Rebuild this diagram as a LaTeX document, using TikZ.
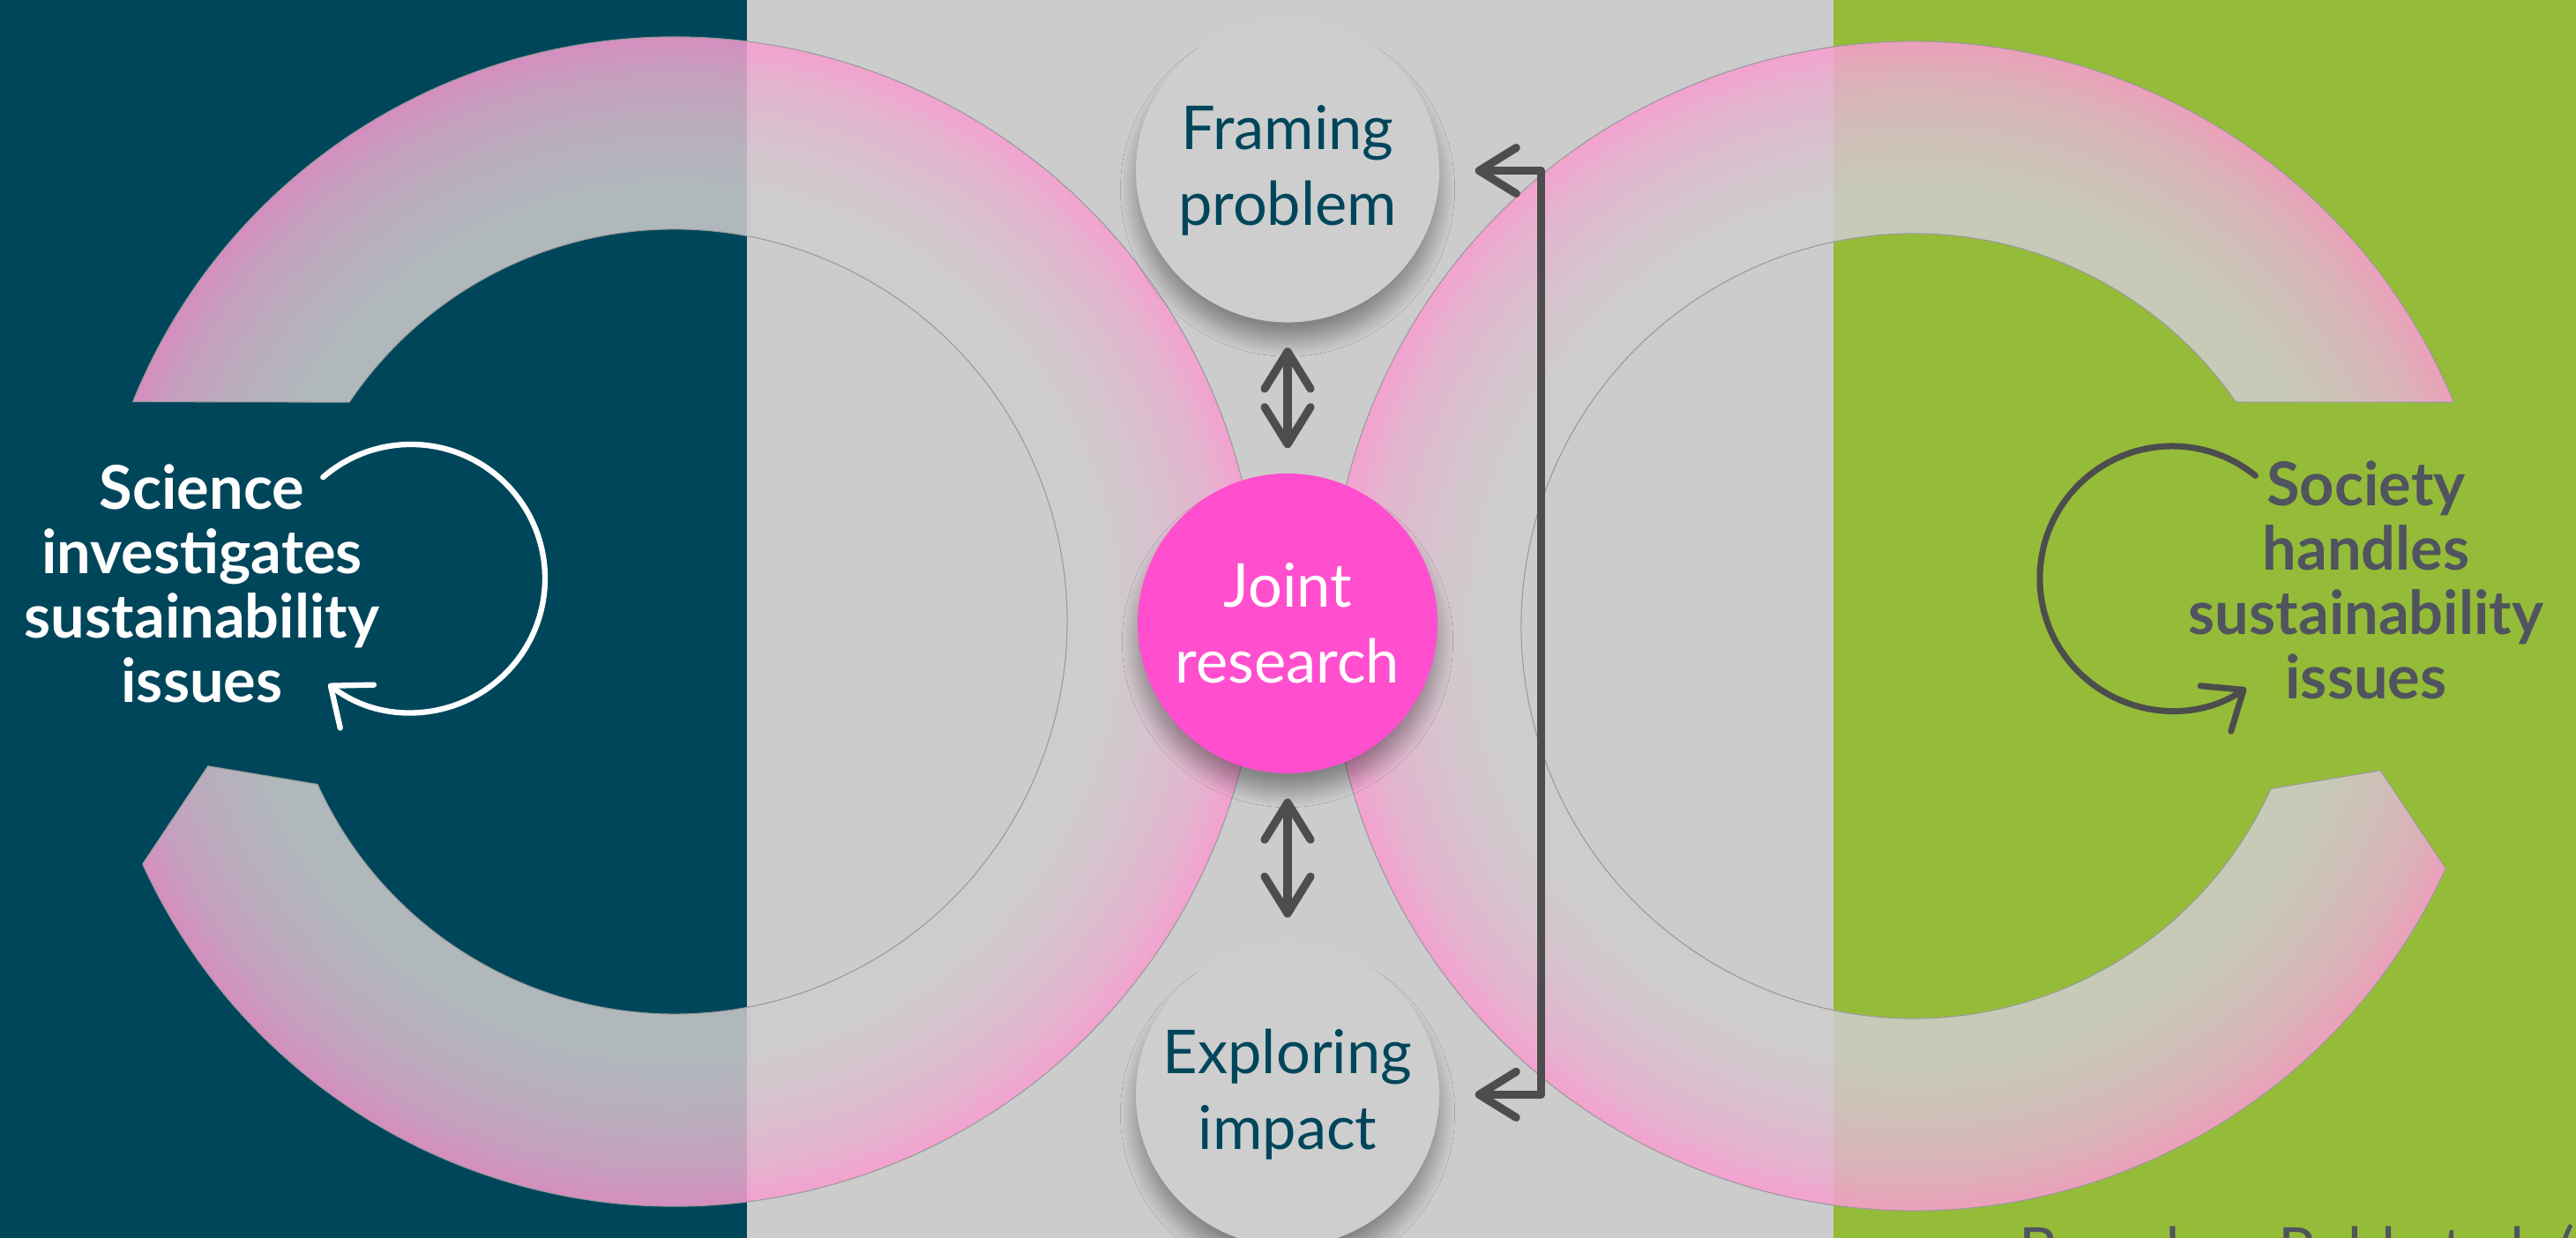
\documentclass[tikz,border=0pt]{standalone}
\usepackage{fontspec}
\setmainfont{Lato}
\usetikzlibrary{arrows.meta, positioning, shadows.blur}

\definecolor{sciteal}{HTML}{00465B}
\definecolor{socgreen}{HTML}{95BC38}
\definecolor{midgrey}{HTML}{CCCCCC}
\definecolor{stagegrey}{HTML}{CECECE}
\definecolor{ringpink}{HTML}{FF96D1}
\definecolor{ringgrey}{HTML}{CFCDCE}
\definecolor{jointpink}{HTML}{FF4FCE}
\definecolor{arrowgrey}{HTML}{4D4D4D}
\definecolor{labelgrey}{HTML}{50545E}

% pink rim fading into grey towards the hole (25bp = outer rim)
\pgfdeclareradialshading{ringfill}{\pgfpointorigin}{color(0bp)=(ringgrey); color(18.5bp)=(ringgrey); color(21bp)=(ringpink!22!ringgrey); color(23.5bp)=(ringpink!55!ringgrey); color(25bp)=(ringpink!90!ringgrey); color(50bp)=(ringpink)}

% the two open rings, flat cut at the top, pointed end at the bottom
\newcommand{\sciencering}{([shift={(157.9:6.63)}]scicentre) arc[start angle=157.9, end angle=-155.5, radius=6.63]
  -- ([shift={(197.2:5.54)}]scicentre) -- ([shift={(-155.5:4.45)}]scicentre)
  arc[start angle=-155.5, end angle=146, radius=4.45] -- cycle}
\newcommand{\societyring}{([shift={(22.5:6.63)}]soccentre) arc[start angle=22.5, end angle=335.5, radius=6.63]
  -- ([shift={(342.8:5.54)}]soccentre) -- ([shift={(335.5:4.45)}]soccentre)
  arc[start angle=335.5, end angle=34.8, radius=4.45] -- cycle}

\begin{document}
\begin{tikzpicture}[
    node distance=1.7cm,
    stage/.style={circle, fill=stagegrey, text=sciteal, minimum size=3.44cm, inner sep=0pt, align=center,
      font=\fontsize{19.5}{24.5}\selectfont,
      blur shadow={shadow xshift=0pt, shadow yshift=-6pt, shadow blur radius=5pt, shadow blur steps=16, shadow opacity=35}},
    hub/.style={stage, fill=jointpink, text=white, minimum size=3.4cm},
    side/.style={align=center, font=\bfseries\fontsize{19.5}{20.7}\selectfont},
    link/.style={draw=arrowgrey, line width=2.6pt, line cap=round, line join=round,
      {Straight Barb[length=4.2mm, width=5.2mm, round]}-{Straight Barb[length=4.2mm, width=5.2mm, round]},
      shorten <=2.8mm, shorten >=2.8mm},
    cycleline/.style={line width=1.8pt, line cap=round, -{Straight Barb[length=3.8mm, width=6.2mm, round]}},
    ringedge/.style={draw=black!40, line width=0.3pt}
  ]
  \useasboundingbox (0,0) rectangle (29.21,14.04);
  \clip (0,0) rectangle (29.21,14.04);

  % backdrop: science | joint space | society
  \fill[sciteal] (0,0) rectangle (8.47,14.04);
  \fill[midgrey] (8.47,0) rectangle (20.79,14.04);
  \fill[socgreen] (20.79,0) rectangle (29.21,14.04);

  \coordinate (scicentre) at (7.65,6.99);
  \coordinate (soccentre) at (21.70,6.94);

  % rings
  \begin{scope}
    \clip \sciencering;
    \shade[shading=ringfill, opacity=.85] (scicentre) circle (6.63);
  \end{scope}
  \draw[ringedge] \sciencering;
  \begin{scope}
    \clip \societyring;
    \shade[shading=ringfill, opacity=.85] (soccentre) circle (6.63);
  \end{scope}
  \draw[ringedge] \societyring;

  % joint research and its two phases
  \node[hub] (joint) at (14.60,6.97) {Joint\\research};
  \node[stage, above=1.70cm of joint] (framing) {Framing\\problem};
  \node[stage, below=1.91cm of joint] (exploring) {Exploring\\impact};

  \draw[link] (framing) -- (joint);
  \draw[link] (joint) -- (exploring);
  \draw[link, shorten <=4mm, shorten >=4mm] (framing.east) -- ++(1.15,0) |- (exploring.east);

  % the two separate cycles
  \node[side, text=white] (science) at (2.29,7.42) {Science\\investigates\\sustainability\\issues};
  \node[side, text=labelgrey] (society) at (26.83,7.46) {Society\\handles\\sustainability\\issues};

  \coordinate (sciloop) at (4.66,7.48);
  \coordinate (socloop) at (24.63,7.48);
  \draw[cycleline, white] ([shift={(131:1.52)}]sciloop) arc[start angle=131, end angle=-128, radius=1.52];
  \draw[cycleline, arrowgrey, line width=2pt] ([shift={(51:1.50)}]socloop) arc[start angle=51, end angle=304, radius=1.50];

  \node[anchor=base west, text=labelgrey, font=\fontsize{19.5}{24}\selectfont] (credit) at (22.77,-0.38) {Based on Pohl et al. (};
\end{tikzpicture}
\end{document}
